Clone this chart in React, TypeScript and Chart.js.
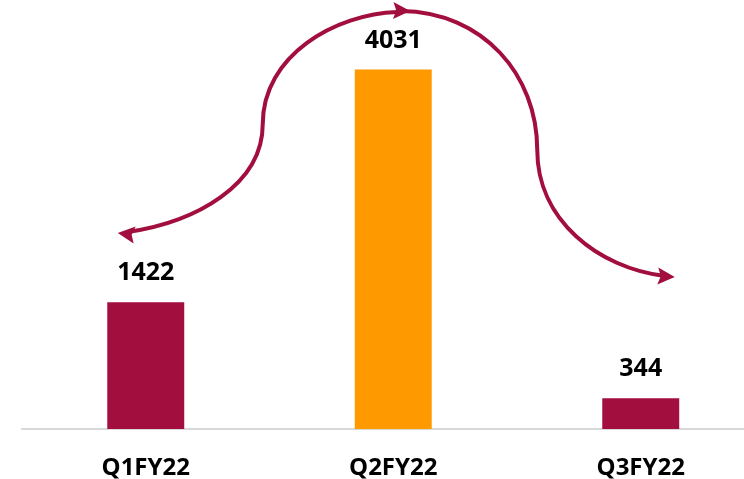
import React, { useEffect, useRef } from "react";
import { Chart, registerables } from "chart.js";

Chart.register(...registerables);

const categories = ["Q1FY22", "Q2FY22", "Q3FY22"];
const values = [1422, 4031, 344];
const barColors = ["#A20E3D", "#FF9900", "#A20E3D"];
const yMax = 4800;

const FONT = "'Open Sans', sans-serif";
const ARROW = "#A20E3D";

const valueLabels = {
  id: "valueLabels",
  afterDatasetsDraw(chart: any) {
    const ctx = chart.ctx;
    const meta = chart.getDatasetMeta(0);
    ctx.save();
    ctx.font = `bold 25px ${FONT}`;
    ctx.fillStyle = "#000";
    ctx.textAlign = "center";
    ctx.textBaseline = "middle";
    meta.data.forEach((bar: any, i: number) => {
      ctx.fillText(String(values[i]), bar.x, bar.y - 29);
    });
    ctx.restore();
  },
};

function head(ctx: CanvasRenderingContext2D, tx: number, ty: number, ang: number) {
  const L = 17, W = 8.5;
  ctx.save();
  ctx.translate(tx, ty);
  ctx.rotate(ang);
  ctx.beginPath();
  ctx.moveTo(0, 0);
  ctx.lineTo(-L, -W);
  ctx.lineTo(-L + 3, 0);
  ctx.lineTo(-L, W);
  ctx.closePath();
  ctx.fill();
  ctx.restore();
}

const arrows = {
  id: "arrows",
  afterDatasetsDraw(chart: any) {
    const ctx = chart.ctx;
    const xs = chart.scales.x;
    const c0 = xs.getPixelForValue(0);
    const c1 = xs.getPixelForValue(1);
    const c2 = xs.getPixelForValue(2);
    ctx.save();
    ctx.strokeStyle = ARROW;
    ctx.fillStyle = ARROW;
    ctx.lineWidth = 4;
    ctx.lineCap = "round";
    ctx.beginPath();
    ctx.moveTo(c0 - 18, 232);
    ctx.bezierCurveTo(c0 + 50, 222, c0 + 117, 185, c0 + 117, 124);
    ctx.bezierCurveTo(c0 + 117, 55, c0 + 190, 14, c1 + 4, 12);
    ctx.stroke();
    ctx.beginPath();
    ctx.moveTo(c1 + 8, 11);
    ctx.bezierCurveTo(c1 + 90, 12, c1 + 144, 75, c1 + 144, 150);
    ctx.bezierCurveTo(c1 + 144, 220, c1 + 205, 268, c2 + 24, 276);
    ctx.stroke();
    head(ctx, c0 - 28, 233, Math.PI + 0.12);
    head(ctx, c1 + 17, 11, 0.03);
    head(ctx, c2 + 34, 277, 0.06);
    ctx.restore();
  },
};

export default function App() {
  const ref = useRef<HTMLCanvasElement>(null);
  useEffect(() => {
    if (!ref.current) return;
    const chart = new Chart(ref.current, {
      type: "bar",
      data: {
        labels: categories,
        datasets: [
          {
            data: values,
            backgroundColor: barColors,
            barPercentage: 0.311,
            categoryPercentage: 1,
          },
        ],
      },
      options: {
        animation: false,
        responsive: false,
        maintainAspectRatio: false,
        layout: { padding: { left: 22, right: 5.5, top: 1, bottom: 0 } },
        plugins: { legend: { display: false }, tooltip: { enabled: false } },
        scales: {
          x: {
            grid: { display: false, drawTicks: false },
            border: { display: true, color: "#D9D9D9", width: 2 },
            ticks: {
              color: "#000",
              font: { family: FONT, size: 24, weight: "bold" },
              padding: 25,
            },
            afterFit: (axis: any) => {
              axis.height = 50;
            },
          },
          y: {
            display: false,
            min: 0,
            max: yMax,
          },
        },
      },
      plugins: [valueLabels, arrows],
    });
    return () => chart.destroy();
  }, []);
  return (
    <div style={{ position: "fixed", left: 0, top: 0, width: 770, height: 479, background: "#fff" }}>
      <canvas ref={ref} width={770} height={479} style={{ width: 770, height: 479 }} />
    </div>
  );
}
